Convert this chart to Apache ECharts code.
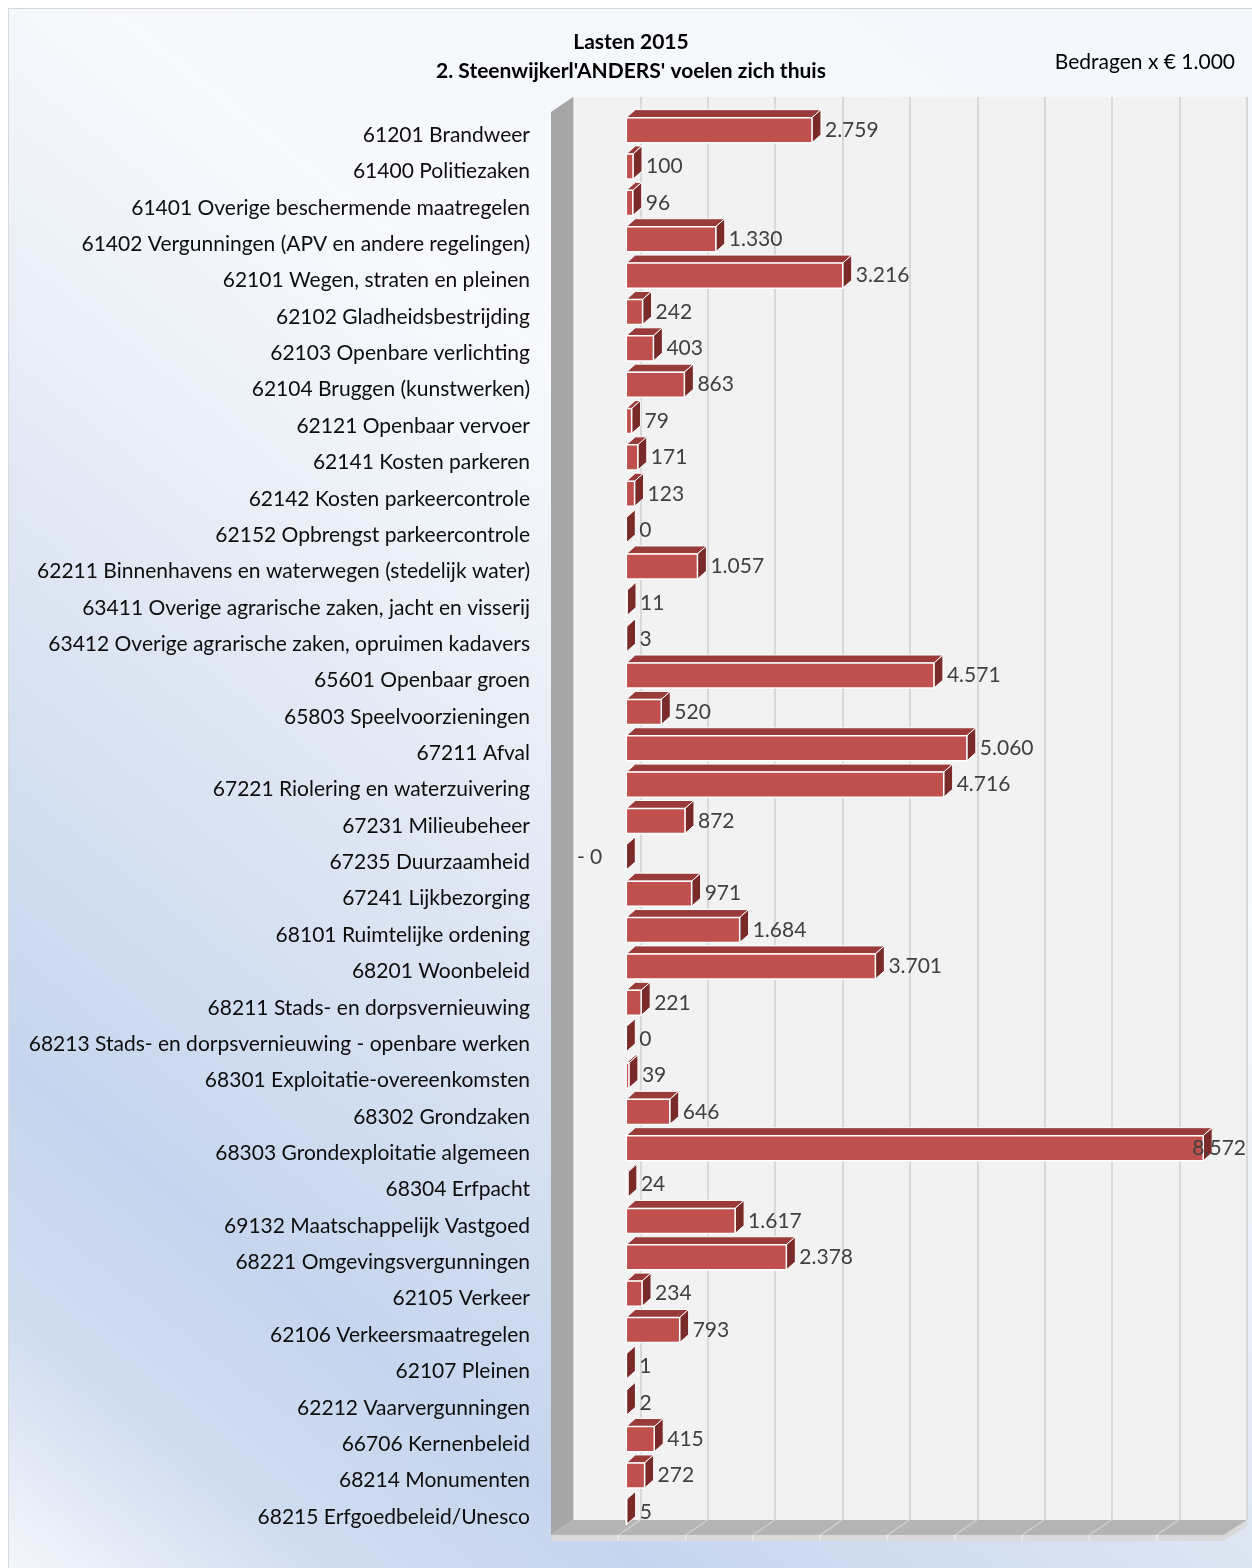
<!DOCTYPE html>
<html><head><meta charset="utf-8">
<script src="https://cdn.jsdelivr.net/npm/echarts@6/dist/echarts.min.js"></script>
<style>
html,body{margin:0;padding:0;background:#fff;}
#bg{position:absolute;left:8px;top:8px;width:1250px;height:1566px;border:1px solid #d9d9d9;box-sizing:border-box;
background:linear-gradient(218.6deg,#f3f6fb 0%,#f7f9fc 36%,#eaeff8 50%,#dbe4f2 62%,#c6d5ee 80%,#d0dcf0 90%,#f5f7fc 100%);}
#chart{position:absolute;left:0;top:0;width:1252px;height:1568px;}
</style></head><body><div id="bg"></div><div id="chart"></div>
<script>
// ---- data ----
const titleLines = ["Lasten 2015", "2. Steenwijkerl'ANDERS' voelen zich thuis"];
const unitText = "Bedragen x € 1.000";
const categories = [
  "61201 Brandweer","61400 Politiezaken","61401 Overige beschermende maatregelen",
  "61402 Vergunningen (APV en andere regelingen)","62101 Wegen, straten en pleinen",
  "62102 Gladheidsbestrijding","62103 Openbare verlichting","62104 Bruggen (kunstwerken)",
  "62121 Openbaar vervoer","62141 Kosten parkeren","62142 Kosten parkeercontrole",
  "62152 Opbrengst parkeercontrole","62211 Binnenhavens en waterwegen (stedelijk water)",
  "63411 Overige agrarische zaken, jacht en visserij","63412 Overige agrarische zaken, opruimen kadavers",
  "65601 Openbaar groen","65803 Speelvoorzieningen","67211 Afval","67221 Riolering en waterzuivering",
  "67231 Milieubeheer","67235 Duurzaamheid","67241 Lijkbezorging","68101 Ruimtelijke ordening",
  "68201 Woonbeleid","68211 Stads- en dorpsvernieuwing","68213 Stads- en dorpsvernieuwing - openbare werken",
  "68301 Exploitatie-overeenkomsten","68302 Grondzaken","68303 Grondexploitatie algemeen","68304 Erfpacht",
  "69132 Maatschappelijk Vastgoed","68221 Omgevingsvergunningen","62105 Verkeer","62106 Verkeersmaatregelen",
  "62107 Pleinen","62212 Vaarvergunningen","66706 Kernenbeleid","68214 Monumenten","68215 Erfgoedbeleid/Unesco"
];
const values = [
  2759,100,96,1330,3216,242,403,863,79,171,123,0,1057,11,3,4571,520,5060,4716,872,-0.2,971,1684,3701,221,0,
  39,646,8572,24,1617,2378,234,793,1,2,415,272,5
];
const xMin = -1000, xMax = 9000, xStep = 1000;

// ---- layout ----
const FONT = 'Lato, "Open Sans", sans-serif';
const FRONT = {left:551, right:1224, top:117, bottom:1535};
const BACK = {left:573, right:1247, top:97, bottom:1520};
const W = 1252, H = 1568;
const BAR = {dx:8, dy:-5, ddx:9, ddy:-8, frac:0.69};
const LABEL_MAX_X = 1246;

function fmt(v){
  const s = Math.round(Math.abs(v)).toString().replace(/\B(?=(\d{3})+(?!\d))/g,'.');
  return v < 0 ? '- ' + s : s;
}

function renderBar(params, api){
  const v = api.value(0), i = api.value(1);
  const a = api.coord([0, i]), b = api.coord([v, i]);
  const band = api.size([0,1])[1];
  const h = band*BAR.frac;
  const cy = a[1] + BAR.dy;
  const y0 = cy - h/2, y1 = cy + h/2;
  const xs = a[0] + BAR.dx, xe = b[0] + BAR.dx;
  const L = Math.min(xs, xe), R = Math.max(xs, xe);
  const dx = BAR.ddx, dy = BAR.ddy;
  const children = [
    {type:'polygon', shape:{points:[[L,y0],[R,y0],[R+dx,y0+dy],[L+dx,y0+dy]]},
     style:{fill:'#983b39', stroke:'#fff', lineWidth:1}},
    {type:'polygon', shape:{points:[[R,y0],[R+dx,y0+dy],[R+dx,y1+dy],[R,y1]]},
     style:{fill:'#7a2b29', stroke:'#fff', lineWidth:1}},
    {type:'rect', shape:{x:L, y:y0, width:R-L, height:h},
     style:{fill:'#c0504d', stroke:'#fff', lineWidth:1.5}}
  ];
  const txt = fmt(v);
  let lx, align;
  if (v < 0) { lx = L - 24; align = 'right'; }
  else {
    lx = R + dx + 4; align = 'left';
    if (lx + txt.length*11 > LABEL_MAX_X) { lx = LABEL_MAX_X; align = 'right'; }
  }
  children.push({type:'text', z2:10, style:{text:txt, x:lx, y:cy, align:align, verticalAlign:'middle',
    fill:'#404040', fontSize:21, fontFamily:FONT}});
  return {type:'group', children:children};
}

// decorative walls / floor
const deco = [];
const ddx = BACK.left - FRONT.left, ddy = BACK.bottom - FRONT.bottom;
deco.push({type:'polygon', z:1, shape:{points:[[FRONT.left,BACK.top-ddy],[BACK.left,BACK.top],[BACK.left,BACK.bottom],[FRONT.left,FRONT.bottom]]},
  style:{fill:'#a6a6a6'}});
deco.push({type:'polygon', z:1, shape:{points:[[FRONT.left,FRONT.bottom],[FRONT.right,FRONT.bottom],[BACK.right,BACK.bottom],[BACK.left,BACK.bottom]]},
  style:{fill:'#b4b4b4'}});
deco.push({type:'polygon', z:1, shape:{points:[[FRONT.left,FRONT.bottom],[FRONT.right,FRONT.bottom],[FRONT.right,FRONT.bottom+6],[FRONT.left,FRONT.bottom+6]]},
  style:{fill:'#dadada'}});
deco.push({type:'polygon', z:1, shape:{points:[[FRONT.right,FRONT.bottom],[BACK.right,BACK.bottom],[BACK.right,BACK.bottom+6],[FRONT.right,FRONT.bottom+6]]},
  style:{fill:'#dadada'}});
const nSteps = (xMax - xMin)/xStep;
for (let k=1;k<nSteps;k++){
  const xf = FRONT.left + k*(FRONT.right-FRONT.left)/nSteps;
  deco.push({type:'line', z:2, shape:{x1:xf,y1:FRONT.bottom,x2:xf+ddx,y2:BACK.bottom}, style:{stroke:'#d0d0d0', lineWidth:1.5}});
  deco.push({type:'line', z:2, shape:{x1:xf,y1:FRONT.bottom,x2:xf,y2:FRONT.bottom+6}, style:{stroke:'#ececec', lineWidth:1.5}});
}
deco.push({type:'text', z:3, x:631, y:42, style:{text:titleLines[0], align:'center', verticalAlign:'middle', fontSize:21, fontWeight:'bold', fontFamily:FONT, fill:'#000'}});
deco.push({type:'text', z:3, x:631, y:71, style:{text:titleLines[1], align:'center', verticalAlign:'middle', fontSize:21, fontWeight:'bold', fontFamily:FONT, fill:'#000'}});
deco.push({type:'text', z:3, x:1235, y:62, style:{text:unitText, align:'right', verticalAlign:'middle', fontSize:21, fontFamily:FONT, fill:'#000'}});

const chart = echarts.init(document.getElementById('chart'), null, {renderer:'canvas'});
chart.setOption({
  animation:false,
  backgroundColor:'transparent',
  grid:[
    {left:FRONT.left, right:W-FRONT.right, top:FRONT.top, bottom:H-FRONT.bottom},
    {left:BACK.left, right:W-BACK.right, top:BACK.top, bottom:H-BACK.bottom, show:true, backgroundColor:'#f2f2f2', borderWidth:0}
  ],
  xAxis:[
    {gridIndex:0, type:'value', min:xMin, max:xMax, interval:xStep, show:false},
    {gridIndex:1, type:'value', min:xMin, max:xMax, interval:xStep, axisLine:{show:false}, axisTick:{show:false},
     axisLabel:{show:false}, splitLine:{show:true, lineStyle:{color:'#d9d9d9', width:2}}}
  ],
  yAxis:[
    {gridIndex:0, type:'category', inverse:true, data:categories, axisLine:{show:false}, axisTick:{show:false},
     splitLine:{show:false}, axisLabel:{margin:21, fontFamily:FONT, fontSize:21, color:'#0d0d0d', interval:0}},
    {gridIndex:1, type:'value', min:0, max:1, show:false, splitLine:{show:false}}
  ],
  graphic:{elements:deco},
  series:[{type:'custom', xAxisIndex:0, yAxisIndex:0, renderItem:renderBar, clip:false, z:5,
    encode:{x:0, y:1}, data:values.map((v,i)=>[v,i])}]
});
</script>
</body></html>
